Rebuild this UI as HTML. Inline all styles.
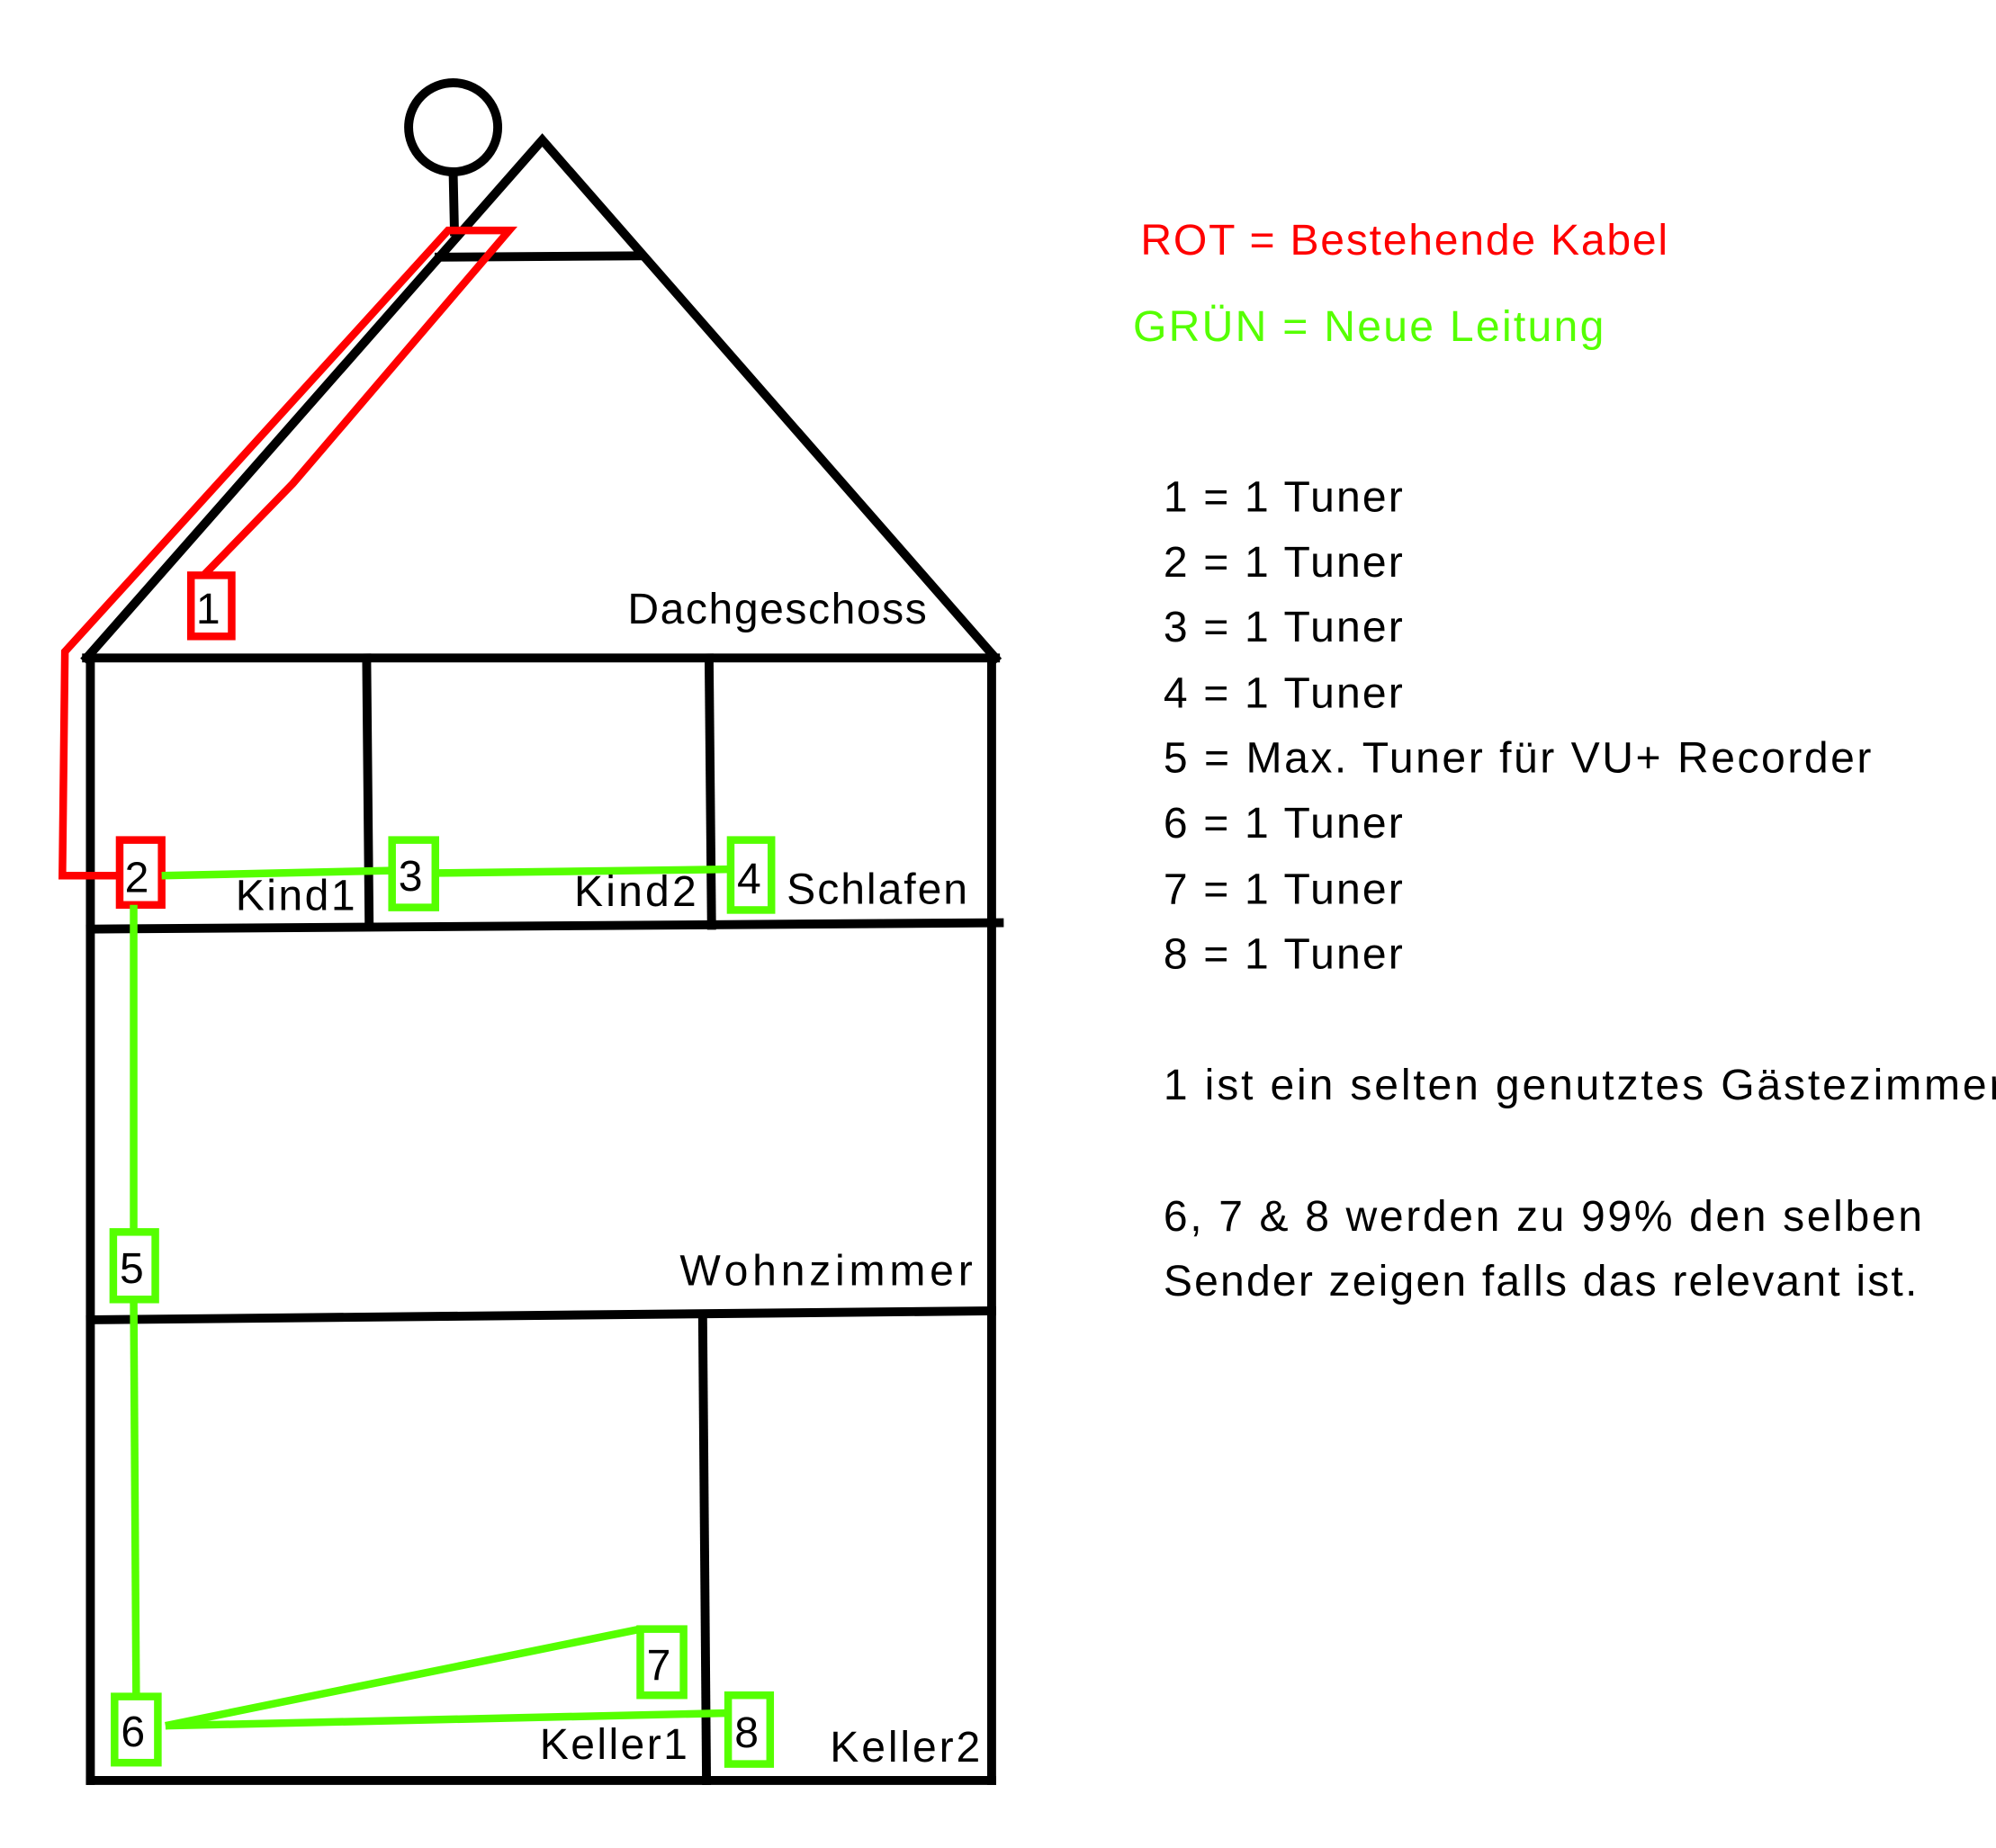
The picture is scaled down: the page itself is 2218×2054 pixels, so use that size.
<!DOCTYPE html>
<html><head><meta charset="utf-8"><style>
html,body{margin:0;padding:0;background:#fff;}
svg{display:block;}
text{font-family:"Liberation Sans",sans-serif;font-size:34px;}
</style></head><body>
<svg width="2218" height="2054" viewBox="0 0 1568 1452" xmlns="http://www.w3.org/2000/svg">
<g fill="none" stroke="#000" stroke-width="7" stroke-linecap="square">
<circle cx="356" cy="100" r="35"/>
<line x1="356" y1="136" x2="357" y2="182"/>
<polyline points="68,517 426,110 782,517"/>
<line x1="345" y1="202" x2="502" y2="201"/>
<line x1="68" y1="517" x2="782" y2="517"/>
<line x1="71" y1="517" x2="71" y2="1399"/>
<line x1="779" y1="517" x2="779" y2="1399"/>
<line x1="71" y1="1399" x2="779" y2="1399"/>
<line x1="288" y1="517" x2="290" y2="727"/>
<line x1="557" y1="517" x2="559" y2="727"/>
<line x1="71" y1="730" x2="785" y2="725"/>
<line x1="71" y1="1037" x2="779" y2="1030"/>
<line x1="552" y1="1035" x2="555" y2="1399"/>
</g>
<g fill="none" stroke="#ff0000" stroke-width="6">
<polyline points="160,452 230,380 400,181 352,181 51,512 49,688 95,688"/>
<rect x="150" y="452" width="32" height="48"/>
<rect x="94" y="660" width="33" height="51"/>
</g>
<g fill="none" stroke="#55ff00" stroke-width="6">
<line x1="127" y1="688" x2="308" y2="684"/>
<rect x="308" y="660" width="34" height="53"/>
<line x1="342" y1="686" x2="574" y2="683"/>
<rect x="574" y="660" width="32" height="55"/>
<line x1="105" y1="711" x2="105" y2="968"/>
<rect x="89" y="968" width="33" height="53"/>
<line x1="105" y1="1021" x2="107" y2="1333"/>
<rect x="90" y="1333" width="34" height="52"/>
<line x1="130" y1="1356" x2="503" y2="1280"/>
<rect x="503" y="1280" width="34" height="52"/>
<line x1="130" y1="1356" x2="572" y2="1346"/>
<rect x="572" y="1332" width="33" height="54"/>
</g>
<g fill="#000">
<text x="154" y="490">1</text>
<text x="98" y="701">2</text>
<text x="313" y="700">3</text>
<text x="579" y="702">4</text>
<text x="94" y="1008">5</text>
<text x="95" y="1372">6</text>
<text x="508" y="1320">7</text>
<text x="577" y="1373">8</text>
<text x="493" y="490" textLength="235">Dachgeschoss</text>
<text x="185" y="715" textLength="94">Kind1</text>
<text x="451" y="712" textLength="96">Kind2</text>
<text x="618" y="710" textLength="142">Schlafen</text>
<text x="534" y="1010" textLength="230">Wohnzimmer</text>
<text x="424" y="1382" textLength="116">Keller1</text>
<text x="652" y="1384" textLength="118">Keller2</text>
</g>
<text x="896" y="200" fill="#ff0000" textLength="414">ROT = Bestehende Kabel</text>
<text x="890" y="268" fill="#55ff00" textLength="370">GRÜN = Neue Leitung</text>
<g fill="#000">
<text x="914" y="402" textLength="188">1 = 1 Tuner</text>
<text x="914" y="453" textLength="188">2 = 1 Tuner</text>
<text x="914" y="504" textLength="188">3 = 1 Tuner</text>
<text x="914" y="556" textLength="188">4 = 1 Tuner</text>
<text x="914" y="607" textLength="556">5 = Max. Tuner für VU+ Recorder</text>
<text x="914" y="658" textLength="188">6 = 1 Tuner</text>
<text x="914" y="710" textLength="188">7 = 1 Tuner</text>
<text x="914" y="761" textLength="188">8 = 1 Tuner</text>
<text x="914" y="864" textLength="660">1 ist ein selten genutztes Gästezimmer</text>
<text x="914" y="967" textLength="596">6, 7 &amp; 8 werden zu 99% den selben</text>
<text x="914" y="1018" textLength="592">Sender zeigen falls das relevant ist.</text>
</g>
</svg>
</body></html>
